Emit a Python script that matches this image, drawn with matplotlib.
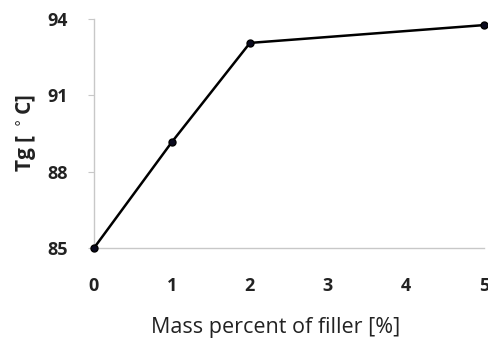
import matplotlib.pyplot as plt

# Tg vs filler content
filler = [0, 1, 2, 5]
tg = [85.0, 89.17, 93.06, 93.76]
xticks = [0, 1, 2, 3, 4, 5]
yticks = [85, 88, 91, 94]

plt.rcParams['font.family'] = ['Open Sans', 'DejaVu Sans']

fig = plt.figure(figsize=(4.88, 3.41), dpi=100)
ax = fig.add_axes([0.1926, 0.2727, 0.799, 0.6716])

ax.plot(filler, tg, color='black', lw=1.8, marker='o', markersize=5,
        markerfacecolor='#0a0a1e', clip_on=False, zorder=3)

ax.set_xlim(0, 5)
ax.set_ylim(85, 94)
ax.set_xticks(xticks)
ax.set_yticks(yticks)
ax.set_xticklabels([str(t) for t in xticks], fontweight='bold', fontsize=13, color='#222222')
ax.set_yticklabels([str(t) for t in yticks], fontweight='bold', fontsize=13, color='#222222')

for side in ['top', 'right']:
    ax.spines[side].set_visible(False)
for side in ['left', 'bottom']:
    ax.spines[side].set_color('#c8c8c8')
    ax.spines[side].set_linewidth(1)

ax.tick_params(axis='x', length=0, pad=21)
ax.tick_params(axis='y', length=4, color='#c8c8c8', pad=15)

ax.set_xlabel('Mass percent of filler [%]', fontsize=15.5, color='#222222', labelpad=15)
ax.xaxis.set_label_coords(0.465, -0.3)
ax.set_ylabel('Tg [ $^\\circ$C]', fontsize=15, fontweight='bold', color='#222222', labelpad=6)

fig.savefig('out.png', dpi=100)
